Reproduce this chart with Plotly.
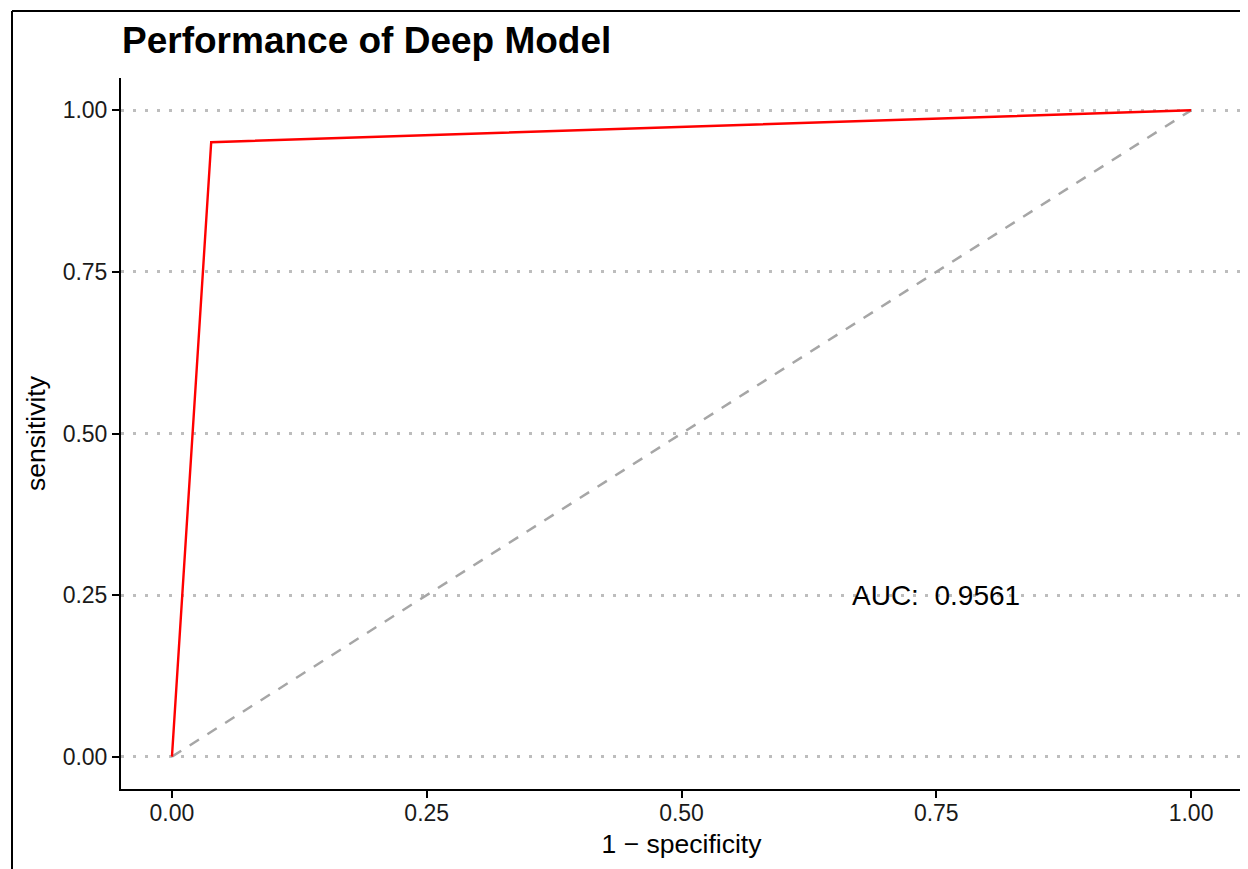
import plotly.graph_objects as go

fpr = [0.0, 0.0385, 1.0]
tpr = [0.0, 0.9507, 1.0]
diag_x = [0.0, 1.0]
diag_y = [0.0, 1.0]
tick_vals = [0.0, 0.25, 0.5, 0.75, 1.0]
tick_text = ["0.00", "0.25", "0.50", "0.75", "1.00"]
auc_text = "AUC:  0.9561"
auc_pos = (0.75, 0.25)

FONT = "Liberation Sans, Arial, sans-serif"
# page body has an 8px margin, so the figure is sized to fit the window
W, H = 1240, 861
L, R, T, B = 113, 6, 70, 80
pw, ph = W - L - R, H - T - B

fig = go.Figure()
fig.add_trace(go.Scatter(x=diag_x, y=diag_y, mode="lines",
                         line=dict(color="#a6a6a6", width=2.5, dash="11px,10px"),
                         showlegend=False, hoverinfo="skip"))
fig.add_trace(go.Scatter(x=fpr, y=tpr, mode="lines",
                         line=dict(color="#ff0000", width=2.4),
                         showlegend=False))

fig.add_annotation(x=auc_pos[0], y=auc_pos[1], text=auc_text.replace("  ", "&nbsp; "),
                   showarrow=False,
                   font=dict(family=FONT, size=28, color="black"),
                   xanchor="center", yanchor="middle")

# figure frame (top and left edges)
fx0 = (4 - L) / pw
fy0 = 1 + (T - 3) / ph
fig.add_shape(type="line", xref="paper", yref="paper", x0=fx0, x1=1 + (R + 2) / pw,
              y0=fy0, y1=fy0, line=dict(color="black", width=2))
fig.add_shape(type="line", xref="paper", yref="paper", x0=fx0, x1=fx0,
              y0=fy0, y1=-(B + 4) / ph, line=dict(color="black", width=2))

axis_common = dict(
    range=[-0.05, 1.05], tickvals=tick_vals, ticktext=tick_text,
    showline=True, linecolor="black", linewidth=2,
    ticks="outside", ticklen=7, tickwidth=2, tickcolor="black",
    tickfont=dict(family=FONT, size=23, color="#1a1a1a"),
    zeroline=False, fixedrange=True,
)
fig.update_xaxes(**axis_common, showgrid=False, ticklabelstandoff=-5,
                 title=dict(text="1 \u2212 specificity", standoff=10,
                            font=dict(family=FONT, size=26.5, color="black")))
fig.update_yaxes(**axis_common, showgrid=True, gridcolor="#bdbdbd", gridwidth=2.6,
                 griddash="3px,9px",
                 title=dict(text="sensitivity", standoff=9,
                            font=dict(family=FONT, size=26.5, color="black")))

fig.update_layout(
    width=W, height=H,
    margin=dict(l=L, r=R, t=T, b=B),
    paper_bgcolor="white", plot_bgcolor="white",
    title=dict(text="<b>Performance of Deep Model</b>", x=114 / W, xanchor="left",
               y=1 - 32 / H, yanchor="middle",
               font=dict(family=FONT, size=37, color="black")),
)

fig.write_html("out.html")
